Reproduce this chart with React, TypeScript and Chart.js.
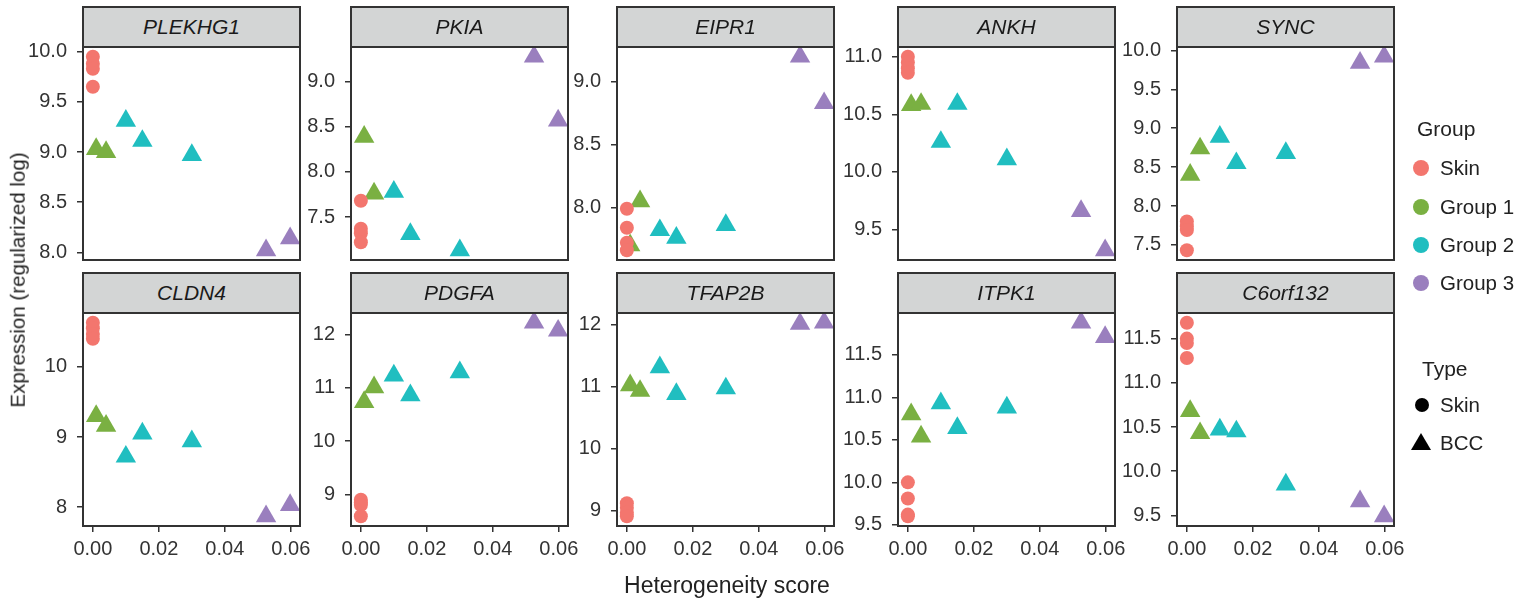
import React, { useEffect, useRef } from 'react';
import { Chart, registerables } from 'chart.js';

Chart.register(...registerables);

// ---------------- data ----------------
const genes = ['PLEKHG1', 'PKIA', 'EIPR1', 'ANKH', 'SYNC', 'CLDN4', 'PDGFA', 'TFAP2B', 'ITPK1', 'C6orf132'];
const groupNames = ['Skin', 'Group 1', 'Group 2', 'Group 3'];
const typeNames = ['Skin', 'BCC'];
const groupColors = ['#F3766E', '#7AB042', '#20BEC0', '#9A7FBE'];

// heterogeneity score (x) of the samples in each group
const scoreSkin = [0, 0, 0, 0];
const scoreGroup1 = [0.001, 0.004];
const scoreGroup2 = [0.010, 0.015, 0.030];
const scoreGroup3 = [0.0525, 0.0598];

// expression (y), one row per gene
const exprSkin = [
  [9.95, 9.88, 9.83, 9.65],
  [7.68, 7.37, 7.32, 7.22],
  [7.99, 7.84, 7.72, 7.66],
  [11.0, 10.95, 10.9, 10.86],
  [7.80, 7.74, 7.69, 7.43],
  [10.63, 10.55, 10.47, 10.40],
  [8.90, 8.85, 8.80, 8.59],
  [9.12, 9.05, 8.97, 8.91],
  [10.0, 9.81, 9.62, 9.60],
  [11.68, 11.50, 11.45, 11.28],
];
const exprGroup1 = [
  [9.03, 9.0],
  [8.39, 7.76],
  [7.70, 8.05],
  [10.58, 10.59],
  [8.40, 8.74],
  [9.30, 9.16],
  [10.73, 11.01],
  [11.02, 10.93],
  [10.80, 10.54],
  [10.68, 10.43],
];
const exprGroup2 = [
  [9.31, 9.11, 8.97],
  [7.78, 7.31, 7.13],
  [7.82, 7.76, 7.86],
  [10.26, 10.59, 10.11],
  [8.89, 8.55, 8.68],
  [8.72, 9.05, 8.94],
  [11.23, 10.86, 11.29],
  [11.31, 10.88, 10.97],
  [10.93, 10.64, 10.88],
  [10.47, 10.45, 9.85],
];
const exprGroup3 = [
  [8.02, 8.14],
  [9.28, 8.57],
  [9.20, 8.83],
  [9.66, 9.32],
  [9.84, 9.92],
  [7.87, 8.03],
  [12.22, 12.07],
  [12.01, 12.03],
  [11.88, 11.71],
  [9.66, 9.49],
];

const xTickLabels = ['0.00', '0.02', '0.04', '0.06'];
const yTickLabels = [
  ['8.0', '8.5', '9.0', '9.5', '10.0'],
  ['7.5', '8.0', '8.5', '9.0'],
  ['8.0', '8.5', '9.0'],
  ['9.5', '10.0', '10.5', '11.0'],
  ['7.5', '8.0', '8.5', '9.0', '9.5', '10.0'],
  ['8', '9', '10'],
  ['9', '10', '11', '12'],
  ['9', '10', '11', '12'],
  ['9.5', '10.0', '10.5', '11.0', '11.5'],
  ['9.5', '10.0', '10.5', '11.0', '11.5'],
];

const xTitle = 'Heterogeneity score';
const yTitle = 'Expression (regularized log)';

// ---------------- layout ----------------
const FONT = "'Liberation Sans', Arial, Helvetica, sans-serif";
const PANEL_LEFT = [83, 351, 617, 898, 1177];
const PANEL_W = 217;
const STRIP_TOP = [7, 273];
const PLOT_TOP = [47, 313];
const PLOT_H = 213;
const Y_W = 70;
const PAD_T = 30;
const PAD_R = 30;
const PAD_B = 30;
const X_H = 46;

function expandRange(vals: number[]): [number, number] {
  const lo = Math.min(...vals);
  const hi = Math.max(...vals);
  const e = (hi - lo) * 0.05;
  return [lo - e, hi + e];
}

const borderPlugin = {
  id: 'panelBorder',
  afterDraw(chart: any) {
    const { ctx, chartArea: a } = chart;
    ctx.save();
    ctx.strokeStyle = '#333333';
    ctx.lineWidth = 2;
    ctx.strokeRect(a.left, a.top, a.right - a.left, a.bottom - a.top);
    ctx.restore();
  },
};

function panelGeom(i: number) {
  const row = Math.floor(i / 5);
  const col = i % 5;
  const left = PANEL_LEFT[col] - Y_W;
  const top = PLOT_TOP[row] - PAD_T;
  const width = Y_W + PANEL_W + PAD_R;
  const height = PAD_T + PLOT_H + (row === 1 ? X_H : PAD_B);
  return { row, col, left, top, width, height };
}

export default function App() {
  const refs = useRef<(HTMLCanvasElement | null)[]>([]);

  useEffect(() => {
    const allX = [...scoreSkin, ...scoreGroup1, ...scoreGroup2, ...scoreGroup3];
    const [xmin, xmax] = expandRange(allX);
    const tickFont = { family: FONT, size: 20 };
    const charts = genes.map((g, i) => {
      const cv = refs.current[i] as HTMLCanvasElement;
      const { row } = panelGeom(i);
      const allY = [...exprSkin[i], ...exprGroup1[i], ...exprGroup2[i], ...exprGroup3[i]];
      const [ymin, ymax] = expandRange(allY);
      const mk = (xs: number[], ys: number[]) => xs.map((x, k) => ({ x, y: ys[k] }));
      const ds = (label: string, xs: number[], ys: number[], color: string, style: string, r: number) => ({
        label,
        data: mk(xs, ys),
        pointStyle: style,
        pointRadius: r,
        pointHoverRadius: r,
        backgroundColor: color,
        borderColor: color,
        borderWidth: 0,
        pointBorderWidth: 0,
        clip: 0,
      });
      return new Chart(cv, {
        type: 'scatter',
        data: {
          datasets: [
            ds(groupNames[0], scoreSkin, exprSkin[i], groupColors[0], 'circle', 7),
            ds(groupNames[1], scoreGroup1, exprGroup1[i], groupColors[1], 'triangle', 11.8),
            ds(groupNames[2], scoreGroup2, exprGroup2[i], groupColors[2], 'triangle', 11.8),
            ds(groupNames[3], scoreGroup3, exprGroup3[i], groupColors[3], 'triangle', 11.8),
          ],
        },
        options: {
          responsive: false,
          maintainAspectRatio: false,
          animation: false,
          events: [],
          layout: { padding: { top: PAD_T, right: PAD_R, bottom: row === 1 ? 0 : PAD_B, left: 0 } },
          plugins: { legend: { display: false }, tooltip: { enabled: false }, title: { display: false } },
          scales: {
            x: {
              type: 'linear',
              min: xmin,
              max: xmax,
              display: row === 1,
              afterBuildTicks: (ax: any) => {
                ax.ticks = xTickLabels.map((l) => ({ value: Number(l) }));
              },
              afterFit: (ax: any) => {
                ax.height = row === 1 ? X_H : 0;
              },
              ticks: {
                callback: (_v: any, idx: number) => xTickLabels[idx],
                font: tickFont,
                color: '#333333',
                padding: 5,
                maxRotation: 0,
                minRotation: 0,
                autoSkip: false,
              },
              grid: { drawOnChartArea: false, drawTicks: true, tickLength: 6, color: '#333333', lineWidth: 1.5 },
              border: { display: false },
            },
            y: {
              type: 'linear',
              min: ymin,
              max: ymax,
              afterBuildTicks: (ax: any) => {
                ax.ticks = yTickLabels[i].map((l) => ({ value: Number(l) }));
              },
              afterFit: (ax: any) => {
                ax.width = Y_W;
              },
              ticks: {
                callback: (_v: any, idx: number) => yTickLabels[i][idx],
                font: tickFont,
                color: '#333333',
                padding: 10,
                autoSkip: false,
              },
              grid: { drawOnChartArea: false, drawTicks: true, tickLength: 6, color: '#333333', lineWidth: 1.5 },
              border: { display: false },
            },
          },
        },
        plugins: [borderPlugin],
      } as any);
    });
    return () => charts.forEach((c) => c.destroy());
  }, []);

  const legendText: React.CSSProperties = {
    position: 'absolute',
    fontFamily: FONT,
    fontSize: 20.5,
    lineHeight: 1,
    color: '#222',
    transform: 'translateY(-50%)',
    whiteSpace: 'nowrap',
  };
  const legendTitle: React.CSSProperties = { ...legendText, fontSize: 21 };
  const groupY = [168, 207, 245, 283];

  return (
    <div style={{ position: 'fixed', left: 0, top: 0, width: 1523, height: 601, background: '#ffffff', overflow: 'hidden' }}>
      {genes.map((g, i) => {
        const p = panelGeom(i);
        return (
          <canvas
            key={'c' + g}
            ref={(el) => {
              refs.current[i] = el;
            }}
            width={p.width}
            height={p.height}
            style={{ position: 'absolute', left: p.left, top: p.top, width: p.width, height: p.height }}
          />
        );
      })}
      {genes.map((g, i) => {
        const p = panelGeom(i);
        const L = PANEL_LEFT[p.col];
        const st = STRIP_TOP[p.row];
        const pt = PLOT_TOP[p.row];
        return (
          <div
            key={'s' + g}
            style={{
              position: 'absolute',
              left: L - 1,
              top: st - 1,
              width: PANEL_W + 2,
              height: pt - st + 2,
              boxSizing: 'border-box',
              border: '2px solid #333333',
              background: '#d3d5d5',
              display: 'flex',
              alignItems: 'center',
              justifyContent: 'center',
              fontFamily: FONT,
              fontStyle: 'italic',
              fontSize: 21,
              color: '#1a1a1a',
            }}
          >
            {g}
          </div>
        );
      })}
      {/* axis titles */}
      <div
        style={{
          position: 'absolute',
          left: 727,
          top: 585,
          transform: 'translate(-50%, -50%)',
          fontFamily: FONT,
          fontSize: 23,
          lineHeight: 1,
          color: '#222',
          whiteSpace: 'nowrap',
        }}
      >
        {xTitle}
      </div>
      <div
        style={{
          position: 'absolute',
          left: 18,
          top: 280,
          transform: 'translate(-50%, -50%) rotate(-90deg)',
          fontFamily: FONT,
          fontSize: 20.5,
          lineHeight: 1,
          color: '#222',
          whiteSpace: 'nowrap',
        }}
      >
        {yTitle}
      </div>
      {/* legend: Group */}
      <div style={{ ...legendTitle, left: 1417, top: 128 }}>Group</div>
      {groupNames.map((n, k) => (
        <React.Fragment key={'g' + n}>
          <svg style={{ position: 'absolute', left: 1412, top: groupY[k] - 9 }} width={18} height={18}>
            <circle cx={9} cy={9} r={8} fill={groupColors[k]} />
          </svg>
          <div style={{ ...legendText, left: 1440, top: groupY[k] }}>{n}</div>
        </React.Fragment>
      ))}
      {/* legend: Type */}
      <div style={{ ...legendTitle, left: 1422, top: 368 }}>{'Type'}</div>
      <svg style={{ position: 'absolute', left: 1412, top: 396 }} width={20} height={18}>
        <circle cx={10} cy={9} r={7} fill="#000" />
      </svg>
      <div style={{ ...legendText, left: 1440, top: 405 }}>{typeNames[0]}</div>
      <svg style={{ position: 'absolute', left: 1410, top: 432 }} width={22} height={20}>
        <polygon points="11,1 21,18 1,18" fill="#000" />
      </svg>
      <div style={{ ...legendText, left: 1440, top: 443 }}>{typeNames[1]}</div>
    </div>
  );
}
